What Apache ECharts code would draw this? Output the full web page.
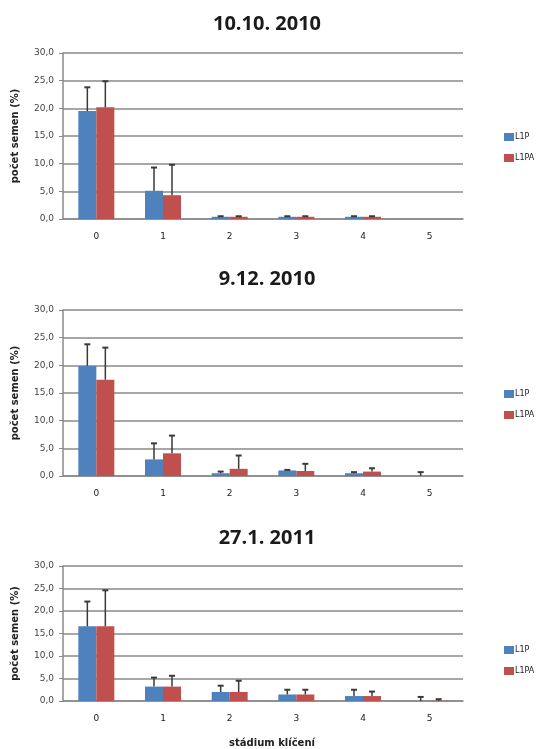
<!DOCTYPE html>
<html>
<head>
<meta charset="utf-8">
<script src="https://cdn.jsdelivr.net/npm/echarts@6/dist/echarts.min.js"></script>
<style>
html,body{margin:0;padding:0;background:#fff;}
#c{width:541px;height:749px;}
</style>
</head>
<body>
<div id="c"></div>
<script>
var categories = ['0','1','2','3','4','5'];
var titles = ['10.10. 2010', '9.12. 2010', '27.1. 2011'];
var seriesNames = ['L1P', 'L1PA'];

var c1_L1P = [19.5, 5.1, 0.4, 0.4, 0.4, 0];
var c1_L1P_err = [4.3, 4.2, 0.1, 0.1, 0.1, 0];
var c1_L1PA = [20.2, 4.3, 0.4, 0.4, 0.4, 0];
var c1_L1PA_err = [4.7, 5.5, 0.1, 0.1, 0.1, 0];

var c2_L1P = [19.9, 3.0, 0.5, 1.0, 0.5, 0];
var c2_L1P_err = [3.9, 2.9, 0.3, 0.1, 0.2, 0.7];
var c2_L1PA = [17.4, 4.1, 1.3, 0.9, 0.8, 0];
var c2_L1PA_err = [5.8, 3.2, 2.4, 1.3, 0.6, 0];

var c3_L1P = [16.6, 3.2, 2.0, 1.45, 1.1, 0];
var c3_L1P_err = [5.5, 2.0, 1.4, 1.05, 1.4, 0.9];
var c3_L1PA = [16.6, 3.2, 2.0, 1.45, 1.1, 0.05];
var c3_L1PA_err = [8.0, 2.4, 2.5, 1.05, 1.0, 0.35];

var yTicks = [0, 5, 10, 15, 20, 25, 30];

var charts = [
  {vals:[c1_L1P, c1_L1PA], errs:[c1_L1P_err, c1_L1PA_err]},
  {vals:[c2_L1P, c2_L1PA], errs:[c2_L1P_err, c2_L1PA_err]},
  {vals:[c3_L1P, c3_L1PA], errs:[c3_L1P_err, c3_L1PA_err]}
];

var colors = ['#4f81bd', '#c0504d'];
var layout = [
  {top:53, height:166, titleTop:9, legendTop:128},
  {top:310, height:166, titleTop:264, legendTop:385},
  {top:566, height:138, titleTop:523, legendTop:641}
];
var BW = 18;
var font = 'DejaVu Sans';

var grids = [], xAxes = [], yAxes = [], series = [], titleArr = [], legends = [];

layout.forEach(function(L, i){
  grids.push({left:63, width:400, top:L.top, height:L.height});
  titleArr.push({text:titles[i], left:262, textAlign:'center', top:L.titleTop,
    textStyle:{fontFamily:'"Open Sans", sans-serif', fontSize:20, fontWeight:'bold', color:'#1a1a1a'}});
  xAxes.push({type:'category', gridIndex:i, data:categories,
    axisLine:{lineStyle:{color:'#8a8a8a', width:1.5}},
    axisTick:{show:false},
    axisLabel:{color:'#222', fontSize:9, fontFamily:font, margin:13},
    name: i===2 ? 'stádium klíčení' : '',
    nameLocation:'middle', nameGap:37,
    nameTextStyle:{color:'#222', fontSize:10, fontFamily:font, fontWeight:'bold', padding:[0,0,0,18]}
  });
  yAxes.push({type:'value', gridIndex:i, min:0, max:30, interval:5,
    axisLine:{show:true, lineStyle:{color:'#8a8a8a', width:1.5}},
    axisTick:{show:true, length:4, lineStyle:{color:'#8a8a8a'}},
    splitLine:{lineStyle:{color:'#8a8a8a', width:1.5}},
    axisLabel:{color:'#444', fontSize:9, fontFamily:font, margin:9,
      formatter:function(v){return v.toFixed(1).replace('.', ',');}},
    name:'počet semen (%)', nameLocation:'middle', nameGap:43, nameRotate:90,
    nameTextStyle:{color:'#222', fontSize:10, fontFamily:font, fontWeight:'bold'}
  });
  legends.push({top:L.legendTop, left:499, orient:'vertical', itemGap:13,
    itemWidth:10, itemHeight:8, icon:'rect', data:seriesNames,
    textStyle:{fontSize:8, color:'#222', fontFamily:font, padding:[0,0,0,-4]}});
  var ch = charts[i];
  seriesNames.forEach(function(nm, k){
    series.push({type:'bar', name:nm, xAxisIndex:i, yAxisIndex:i, data:ch.vals[k],
      barWidth:BW, barGap:'0%', itemStyle:{color:colors[k]}, z:2, silent:true});
  });
  seriesNames.forEach(function(nm, k){
    var d = ch.vals[k].map(function(v, j){return [j, v, v + ch.errs[k][j]];});
    series.push({type:'custom', name:nm, xAxisIndex:i, yAxisIndex:i, data:d, z:5, silent:true,
      encode:{x:0, y:[1,2]},
      renderItem:function(params, api){
        if (api.value(2) - api.value(1) <= 0) return null;
        var off = (k === 0 ? -BW/2 : BW/2);
        var p0 = api.coord([api.value(0), api.value(1)]);
        var p1 = api.coord([api.value(0), api.value(2)]);
        var x = p0[0] + off;
        var st = {stroke:'#3a3a3a', lineWidth:1.5};
        return {type:'group', children:[
          {type:'line', shape:{x1:x, y1:p0[1], x2:x, y2:p1[1]}, style:st},
          {type:'line', shape:{x1:x-3, y1:p1[1], x2:x+3, y2:p1[1]}, style:{stroke:'#3a3a3a', lineWidth:2}}
        ]};
      }
    });
  });
});

var chart = echarts.init(document.getElementById('c'), null, {renderer:'canvas'});
chart.setOption({
  animation:false,
  backgroundColor:'#fff',
  title:titleArr,
  legend:legends,
  grid:grids,
  xAxis:xAxes,
  yAxis:yAxes,
  series:series
});
</script>
</body>
</html>
